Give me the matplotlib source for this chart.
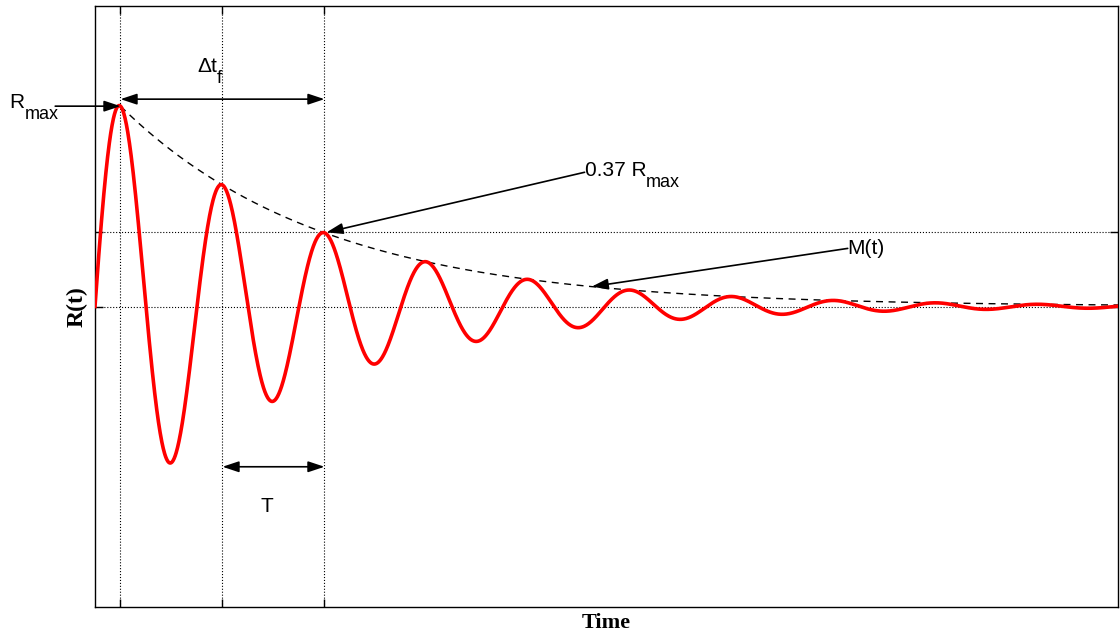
import numpy as np
import matplotlib.pyplot as plt

# response parameters (time in units of the oscillation period)
r_max = 1.0          # first peak height
period = 1.0         # T
t_peak = 0.25        # time of first peak
decay = 2.0          # delta t_f, envelope falls to 0.37 R_max
t_end = 10.03

guide_x = [t_peak, t_peak + period, t_peak + 2 * period]
guide_y = [0.0, 0.37 * r_max]

t = np.linspace(0, t_end, 3000)
R = r_max * np.exp(-(t - t_peak) / decay) * np.cos(2 * np.pi * (t - t_peak) / period)
te = t[t >= t_peak]
M = r_max * np.exp(-(te - t_peak) / decay)

fig = plt.figure(figsize=(11.2, 6.37), dpi=100)
ax = fig.add_axes([95 / 1120, 30 / 637, 1023 / 1120, 601 / 637])

ax.plot(t, R, color='red', lw=2.6, zorder=3)
ax.plot(te, M, 'k--', lw=1.0, dashes=(5, 4), zorder=2)

for x in guide_x:
    ax.axvline(x, color='k', ls=':', lw=0.8)
for y in guide_y:
    ax.axhline(y, color='k', ls=':', lw=0.8)

ax.set_xlim(0, t_end)
ax.set_ylim(-1.5, 1.5)
ax.set_xticks(guide_x)
ax.set_yticks(guide_y)
ax.set_xticklabels([])
ax.set_yticklabels([])
ax.tick_params(direction='in', length=6, top=True, right=True, width=1)
for s in ax.spines.values():
    s.set_linewidth(1.0)

ax.set_xlabel('Time', family='Liberation Serif', fontweight='bold', fontsize=16, labelpad=1)
ax.set_ylabel('R(t)', family='Liberation Serif', fontweight='bold', fontsize=17, labelpad=2)

FS = 15
txt = dict(family='Liberation Sans', fontsize=FS, color='k')
arr = dict(arrowstyle='-|>,head_length=0.9,head_width=0.3', color='k', lw=1.2,
           mutation_scale=11, shrinkA=0, shrinkB=0)
arr2 = dict(arrowstyle='<|-|>,head_length=0.9,head_width=0.3', color='k', lw=1.2,
            mutation_scale=11, shrinkA=0, shrinkB=0)


def label(x, y, main, sub=None):
    # main text with a large, well-lowered subscript
    t0 = ax.text(x, y, main, ha='left', va='center', **txt)
    if sub:
        fig.canvas.draw()
        bb = t0.get_window_extent()
        ax.annotate(sub, xy=(bb.x1, bb.y0 + bb.height / 2), xycoords='figure pixels',
                    xytext=(0, -9), textcoords='offset points', ha='left', va='center',
                    family='Liberation Sans', fontsize=FS - 2)


# R_max pointer
ax.annotate('', xy=(t_peak, r_max), xytext=(-0.39, r_max), arrowprops=arr,
            annotation_clip=False)
label(-0.84, r_max + 0.02, 'R', 'max')

# delta t_f span
yd = r_max + 0.035
ax.annotate('', xy=(t_peak, yd), xytext=(t_peak + decay, yd), arrowprops=arr2)
label(1.0, 1.2, u'\u0394t', 'f')

# period span
yT = -0.80
ax.annotate('', xy=(t_peak + period, yT), xytext=(t_peak + 2 * period, yT), arrowprops=arr2)
ax.text(1.69, -1.0, 'T', ha='center', va='center', **txt)

# 0.37 R_max pointer
ax.annotate('', xy=(t_peak + decay + 0.02, 0.37 * r_max), xytext=(4.8, 0.67),
            arrowprops=arr)
label(4.8, 0.68, '0.37 R', 'max')

# envelope pointer
ax.annotate('', xy=(4.87, np.exp(-(4.87 - t_peak) / decay)), xytext=(7.38, 0.29),
            arrowprops=arr)
label(7.38, 0.29, 'M(t)')

fig.savefig('out.png', dpi=100)
